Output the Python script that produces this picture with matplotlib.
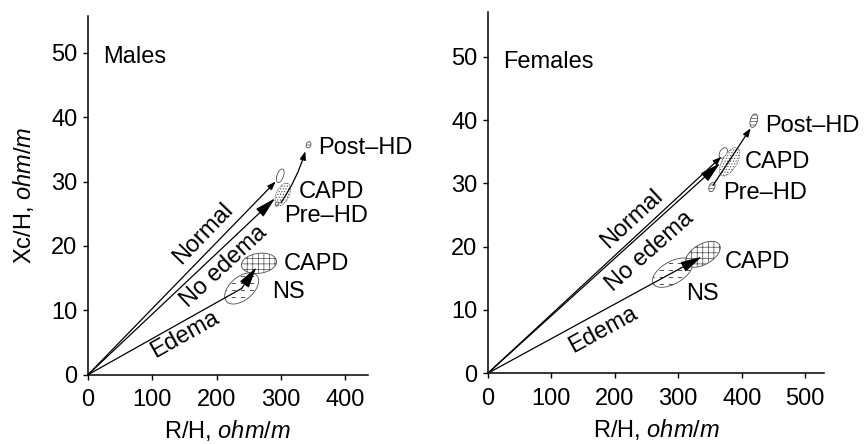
import numpy as np
import matplotlib
matplotlib.use('Agg')
import matplotlib.pyplot as plt
from matplotlib.patches import Polygon

plt.rcParams['font.family'] = ['Liberation Sans', 'DejaVu Sans']
plt.rcParams['mathtext.fontset'] = 'custom'
plt.rcParams['mathtext.rm'] = 'Liberation Sans'
plt.rcParams['mathtext.it'] = 'Liberation Sans:italic'
plt.rcParams['hatch.linewidth'] = 0.5

FS = 17

# ---------------- data ----------------
panel_names = ['Males', 'Females']
x_ticks_m = [0, 100, 200, 300, 400]
x_ticks_f = [0, 100, 200, 300, 400, 500]
y_ticks = [0, 10, 20, 30, 40, 50]
xlim_m = (0, 435)
xlim_f = (0, 530)
ylim_m = (0, 55.7)
ylim_f = (0, 57.1)

# Males (R/H, Xc/H)
m_normal = (292, 30.0)
m_noedema = (291, 27.4)
m_ns = (239, 13.4)
m_capd_edema = (262, 16.7)
m_prehd = (300, 26.7)
m_posthd = (338, 34.7)
# ellipses: centre x, centre y, semi-major, semi-minor, angle, fill style
m_ell_x = [299, 303, 294, 343, 239, 266]
m_ell_y = [30.9, 28.0, 26.5, 35.7, 13.4, 17.3]
m_ell_a = [1.1, 1.85, 0.35, 0.5, 3.1, 2.75]
m_ell_b = [0.5, 1.0, 0.25, 0.35, 1.8, 1.55]
m_ell_ang = [70, 65, 60, 70, 40, 8]
ell_style = ['open', 'dots', 'lines', 'lines', 'dash', 'cross']

# Females
f_normal = (368, 34.2)
f_noedema = (366, 33.2)
f_ns = (291, 15.9)
f_capd_edema = (337, 18.4)
f_prehd = (355, 29.7)
f_posthd = (414, 38.7)
f_ell_x = [371, 381, 353, 419, 291, 339]
f_ell_y = [34.8, 33.4, 29.4, 39.9, 15.9, 18.8]
f_ell_a = [0.9, 2.5, 0.75, 1.1, 3.5, 3.0]
f_ell_b = [0.55, 1.15, 0.45, 0.55, 1.75, 1.6]
f_ell_ang = [60, 60, 70, 75, 30, 30]

# text labels
group_labels = ['Normal', 'No edema', 'Edema']
m_group_pos = [(179, 21.9), (211, 16.8), (151, 6.2)]
m_group_rot = [46, 42.8, 29.3]
f_group_pos = [(227, 24.4), (256, 19.2), (182, 6.8)]
f_group_rot = [42.8, 41.5, 28.6]

point_labels = ['Post\u2013HD', 'CAPD', 'Pre\u2013HD', 'CAPD', 'NS']
m_point_pos = [(358, 35.2), (327, 28.3), (305, 24.7), (305, 17.2), (286, 12.9)]
f_point_pos = [(437, 39.0), (405, 33.3), (370, 28.4), (373, 17.6), (313, 12.6)]
m_title_pos = (24, 49.3)
f_title_pos = (25, 49.2)

XSCALE = 10.0  # x-units per y-unit on screen (aspect of the plots)


def ellipse_points(cx, cy, a, b, ang, n=120):
    t = np.linspace(0, 2 * np.pi, n)
    th = np.radians(ang)
    u = a * np.cos(t) * np.cos(th) - b * np.sin(t) * np.sin(th)
    v = a * np.cos(t) * np.sin(th) + b * np.sin(t) * np.cos(th)
    return np.column_stack([cx + XSCALE * u, cy + v])


def draw_ellipse(ax, cx, cy, a, b, ang, style):
    pts = ellipse_points(cx, cy, a, b, ang)
    kw = dict(closed=True, facecolor='white', edgecolor='0.3', lw=0.6, zorder=2)
    if style == 'dots':
        poly = Polygon(pts, hatch='......', **kw)
        poly.set_linestyle((0, (1, 1)))
    elif style == 'lines':
        poly = Polygon(pts, hatch='-----', **kw)
    elif style == 'cross':
        poly = Polygon(pts, hatch='+++', **kw)
    else:
        poly = Polygon(pts, **kw)
    ax.add_patch(poly)
    if style == 'dash':
        ys = np.arange(cy - a + 0.6, cy + a, 1.1)
        for yy in ys:
            ln, = ax.plot([cx - XSCALE * a, cx + XSCALE * a], [yy, yy],
                          color='0.2', lw=0.6, ls=(0, (5, 6)), zorder=2.5)
            ln.set_clip_path(poly)


def arrow(ax, start, end, hl, hw, lw=0.9, rad=0.0):
    ax.annotate('', xy=end, xytext=start,
                arrowprops=dict(arrowstyle='-|>,head_length=%g,head_width=%g' % (hl, hw),
                                color='black', lw=lw, shrinkA=0, shrinkB=0,
                                mutation_scale=10,
                                connectionstyle='arc3,rad=%g' % rad),
                zorder=4)


def panel(ax, name, title_pos, xticks, xlim, ylim, normal, noedema, ns, capd_e,
          prehd, posthd, ex, ey, ea, eb, eang, gpos, grot, ppos, rad):
    for i in range(len(ex)):
        draw_ellipse(ax, ex[i], ey[i], ea[i], eb[i], eang[i], ell_style[i])
    # vectors
    arrow(ax, (0, 0), normal, 0.5, 0.18)
    arrow(ax, (0, 0), noedema, 1.3, 0.33)
    ax.plot([0, ns[0]], [0, ns[1]], color='black', lw=0.9, zorder=4)
    arrow(ax, ns, capd_e, 1.3, 0.33)
    arrow(ax, prehd, posthd, 0.5, 0.18, rad=rad)
    for lab, p, r in zip(group_labels, gpos, grot):
        ax.text(p[0], p[1], lab, rotation=r, rotation_mode='anchor',
                ha='center', va='center', fontsize=FS, zorder=5)
    for lab, p in zip(point_labels, ppos):
        ax.text(p[0], p[1], lab, ha='left', va='center', fontsize=FS, zorder=5)
    ax.text(title_pos[0], title_pos[1], name, ha='left', va='center', fontsize=FS)

    ax.set_xlim(*xlim)
    ax.set_ylim(*ylim)
    ax.set_xticks(xticks)
    ax.set_yticks(y_ticks)
    for s in ['top', 'right']:
        ax.spines[s].set_visible(False)
    for s in ['left', 'bottom']:
        ax.spines[s].set_linewidth(1.1)
    ax.tick_params(direction='out', length=3.5, width=1.0, labelsize=FS)
    ax.tick_params(axis='x', pad=7)
    ax.tick_params(axis='y', pad=4)
    ax.set_xlabel(r'R/H, $\it{ohm/m}$', fontsize=FS, labelpad=5)


fig = plt.figure(figsize=(8.66, 4.44), dpi=100)
ax1 = fig.add_axes([0.1016, 0.156, 0.323, 0.808])
ax2 = fig.add_axes([0.5632, 0.1592, 0.3886, 0.8144])

panel(ax1, panel_names[0], m_title_pos, x_ticks_m, xlim_m, ylim_m,
      m_normal, m_noedema, m_ns, m_capd_edema, m_prehd, m_posthd,
      m_ell_x, m_ell_y, m_ell_a, m_ell_b, m_ell_ang,
      m_group_pos, m_group_rot, m_point_pos, 0.08)
panel(ax2, panel_names[1], f_title_pos, x_ticks_f, xlim_f, ylim_f,
      f_normal, f_noedema, f_ns, f_capd_edema, f_prehd, f_posthd,
      f_ell_x, f_ell_y, f_ell_a, f_ell_b, f_ell_ang,
      f_group_pos, f_group_rot, f_point_pos, 0.0)
ax1.set_ylabel(r'Xc/H, $\it{ohm/m}$', fontsize=FS, labelpad=11)

fig.savefig('out.png', dpi=100)
